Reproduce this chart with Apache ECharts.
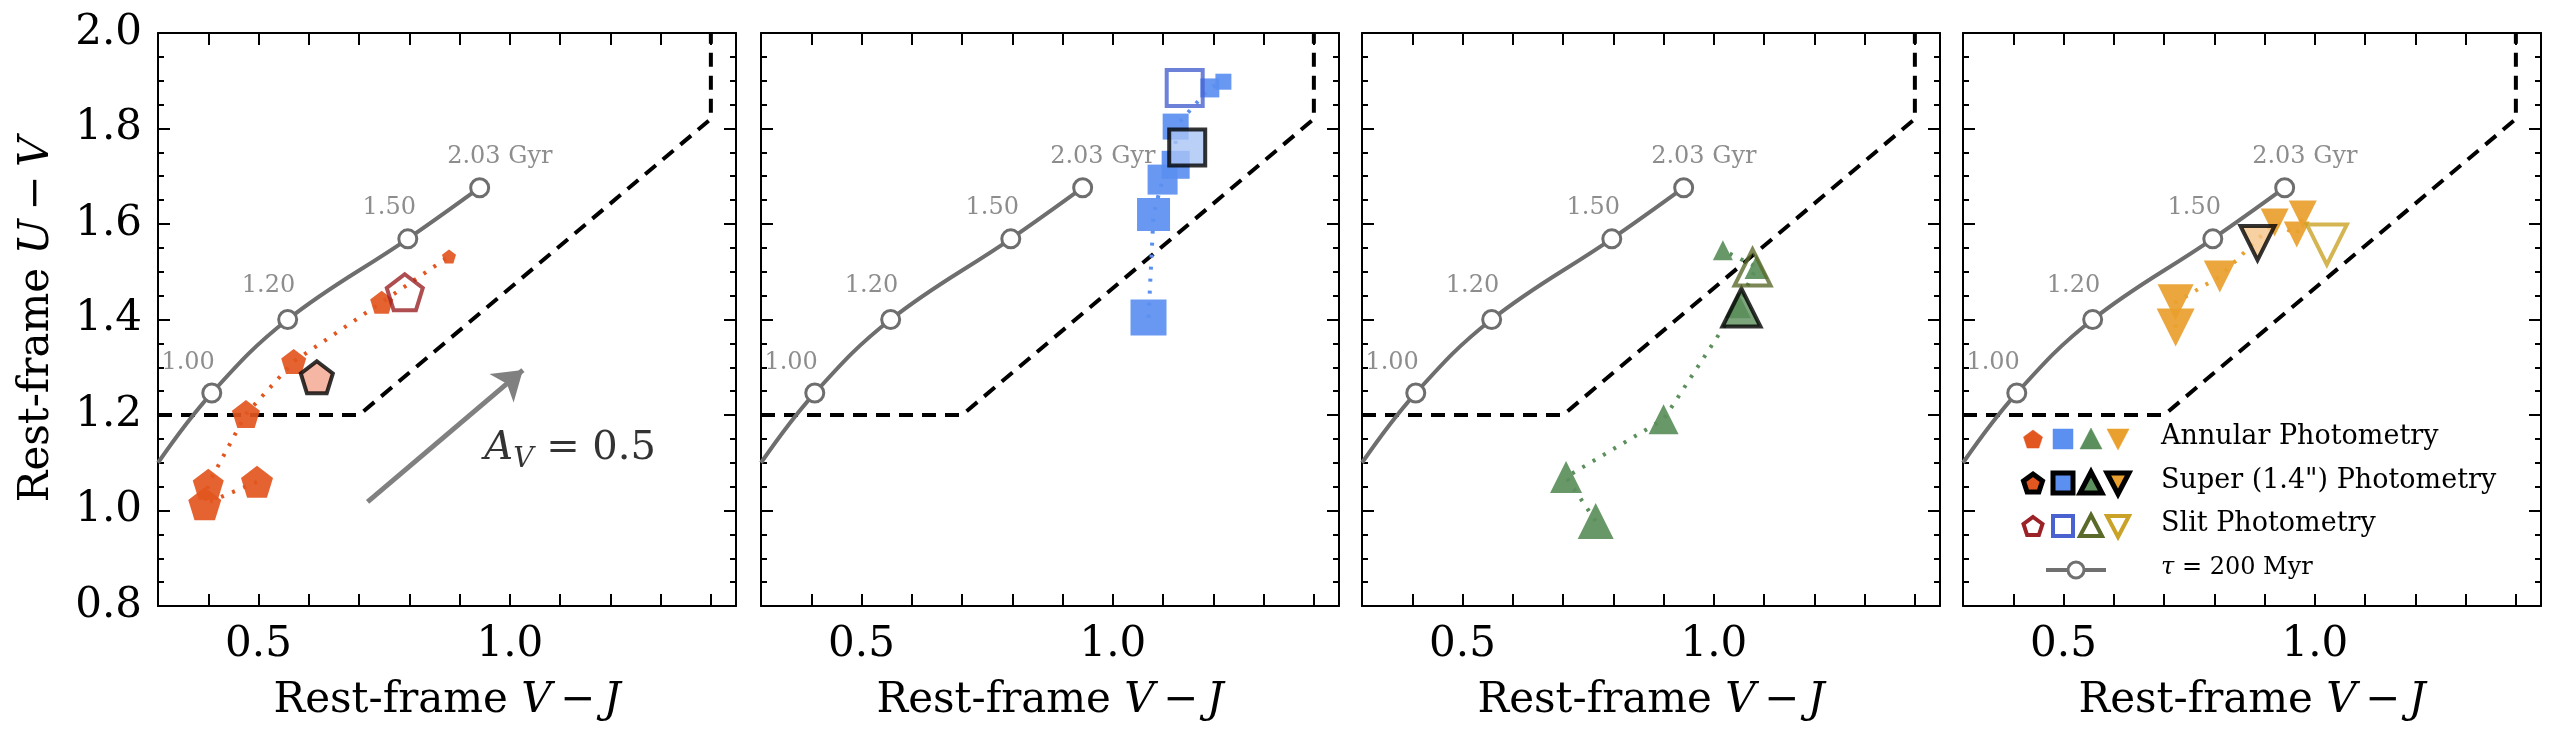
<!DOCTYPE html>
<html>
<head>
<meta charset="utf-8">
<script src="https://cdn.jsdelivr.net/npm/echarts@6/dist/echarts.min.js"></script>
<style>html,body{margin:0;padding:0;background:#fff}#chart{width:2560px;height:737px}</style>
</head>
<body>
<div id="chart"></div>
<script>
// tau = 200 Myr track (V-J, U-V) and age labels
var trackLine = [[0.30,1.10],[0.407,1.246],[0.558,1.40],[0.797,1.569],[0.94,1.676]];
var trackAges = [[0.407,1.246],[0.558,1.40],[0.797,1.569],[0.94,1.676]];
var ageLabels = ['1.00','1.20','1.50','2.03 Gyr'];
var ageLabelPos = [[0.36,1.31],[0.52,1.47],[0.76,1.635],[0.98,1.74]];
// quiescent selection box
var uvjBox = [[0.30,1.20],[0.70,1.20],[1.40,1.82],[1.40,2.00]];

// panel 1 (pentagons)
var ann1 = [[0.497,1.06],[0.393,1.014],[0.40,1.055],[0.475,1.202],[0.570,1.312],[0.745,1.436],[0.879,1.532]];
var ann1Size = [32,33,31,28,25,23,14];
var sup1 = [0.616,1.279];
var slit1 = [0.791,1.457];
// panel 2 (squares)
var ann2 = [[1.071,1.404],[1.081,1.62],[1.099,1.693],[1.125,1.724],[1.125,1.804],[1.193,1.885],[1.22,1.898]];
var ann2Size = [36,33,30,28,26,19,16];
var sup2 = [1.148,1.76];
var slit2 = [1.143,1.885];
// panel 3 (up triangles)
var ann3 = [[0.765,0.978],[0.706,1.07],[0.900,1.191],[1.048,1.43],[1.085,1.51],[1.018,1.545]];
var ann3Size = [36,32,30,26,24,20];
var sup3 = [1.055,1.425];
var slit3 = [1.077,1.509];
// panel 4 (down triangles)
var ann4 = [[0.723,1.383],[0.723,1.436],[0.811,1.49],[0.920,1.603],[0.964,1.578],[0.976,1.62]];
var ann4Size = [38,36,32,28,26,28];
var sup4 = [0.886,1.56];
var slit4 = [1.024,1.557];

var xTicks = ['0.5','1.0'];
var yTicks = ['0.8','1.0','1.2','1.4','1.6','1.8','2.0'];

var FONT = 'DejaVu Serif';
var pent = 'path://M0,-10 L9.51,-3.09 L5.88,8.09 L-5.88,8.09 L-9.51,-3.09 Z';
var panels = [
  {ann: ann1, size: ann1Size, sup: sup1, slit: slit1, sym: pent, rot: 0, col: '#e2561f', supFill: '#f2a58c', slitCol: '#9b2226', supSize: 32, slitSize: 36},
  {ann: ann2, size: ann2Size, sup: sup2, slit: slit2, sym: 'rect', rot: 0, col: '#5b8ff0', supFill: '#a9c4f5', slitCol: '#4a62d0', supSize: 36, slitSize: 36},
  {ann: ann3, size: ann3Size, sup: sup3, slit: slit3, sym: 'triangle', rot: 0, col: '#5b8f5b', supFill: '#5b8f5b', slitCol: '#5a6a2a', supSize: 38, slitSize: 36},
  {ann: ann4, size: ann4Size, sup: sup4, slit: slit4, sym: 'triangle', rot: 180, col: '#e9a02e', supFill: '#f5c68a', slitCol: '#c9a227', supSize: 34, slitSize: 40}
];
var lefts = [158, 761, 1362, 1963];

var grid = [], xAxis = [], yAxis = [], series = [];
lefts.forEach(function (l, i) {
  grid.push({left: l, top: 33, width: 578, height: 573});
  var tick = {show: true, inside: true, length: 12, lineStyle: {color: '#000', width: 2}};
  var minor = {show: true, length: 6, lineStyle: {color: '#000', width: 2}};
  xAxis.push({type: 'value', gridIndex: i, min: 0.3, max: 1.45, interval: 0.1,
    name: 'Rest-frame {i|V}\u2009\u2212\u2009{i|J}', nameLocation: 'middle', nameGap: 74,
    nameTextStyle: {fontFamily: FONT, fontSize: 42, color: '#000', rich: {i: {fontFamily: FONT, fontStyle: 'italic', fontSize: 42}}},
    axisLine: {lineStyle: {color: '#000', width: 2}}, axisTick: tick, splitLine: {show: false},
    axisLabel: {fontFamily: FONT, fontSize: 42, color: '#000', margin: 18,
      formatter: function (v) { var s = v.toFixed(1); return xTicks.indexOf(s) >= 0 ? s : ''; }}});
  xAxis.push({type: 'value', gridIndex: i, position: 'top', min: 0.3, max: 1.45, interval: 0.1,
    axisLine: {lineStyle: {color: '#000', width: 2}}, axisTick: tick, axisLabel: {show: false}, splitLine: {show: false}});
  yAxis.push({type: 'value', gridIndex: i, min: 0.8, max: 2.0, interval: 0.2,
    name: i === 0 ? 'Rest-frame {i|U}\u2009\u2212\u2009{i|V}' : '', nameLocation: 'middle', nameGap: 100,
    nameTextStyle: {fontFamily: FONT, fontSize: 42, color: '#000', rich: {i: {fontFamily: FONT, fontStyle: 'italic', fontSize: 42}}},
    axisLine: {lineStyle: {color: '#000', width: 2}}, axisTick: tick, minorTick: Object.assign({splitNumber: 4}, minor),
    splitLine: {show: false},
    axisLabel: {show: i === 0, fontFamily: FONT, fontSize: 42, color: '#000', margin: 16,
      formatter: function (v) { return v.toFixed(1); }}});
  yAxis.push({type: 'value', gridIndex: i, position: 'right', min: 0.8, max: 2.0, interval: 0.2,
    axisLine: {lineStyle: {color: '#000', width: 2}}, axisTick: tick, minorTick: Object.assign({splitNumber: 4}, minor),
    axisLabel: {show: false}, splitLine: {show: false}});
  var xi = 2 * i, yi = 2 * i;
  series.push({type: 'line', xAxisIndex: xi, yAxisIndex: yi, data: uvjBox, symbol: 'none',
    lineStyle: {color: '#000', width: 4, type: [14, 9]}, z: 2, silent: true});
  series.push({type: 'line', xAxisIndex: xi, yAxisIndex: yi, data: trackLine, smooth: 0.4, symbol: 'none',
    lineStyle: {color: '#6e6e6e', width: 4}, z: 3, silent: true});
  series.push({type: 'scatter', xAxisIndex: xi, yAxisIndex: yi, data: trackAges, symbol: 'circle', symbolSize: 18,
    itemStyle: {color: '#ffffff', borderColor: '#6e6e6e', borderWidth: 3, opacity: 1}, z: 4, silent: true});
  series.push({type: 'scatter', xAxisIndex: xi, yAxisIndex: yi, symbolSize: 0, z: 4, silent: true,
    data: ageLabelPos.map(function (p, k) { return {value: p, label: {show: true, formatter: ageLabels[k]}}; }),
    label: {position: 'inside', fontFamily: FONT, fontSize: 24, color: '#707070'}});
  var p = panels[i];
  series.push({type: 'line', xAxisIndex: xi, yAxisIndex: yi, data: p.ann, symbol: 'none',
    lineStyle: {color: p.col, width: 4, type: [3, 9]}, z: 5, silent: true});
  series.push({type: 'scatter', xAxisIndex: xi, yAxisIndex: yi, symbol: p.sym, symbolRotate: p.rot,
    data: p.ann.map(function (d, k) { return {value: d, symbolSize: p.size[k]}; }),
    itemStyle: {color: p.col, opacity: 0.92}, z: 6});
  series.push({type: 'scatter', xAxisIndex: xi, yAxisIndex: yi, symbol: p.sym, symbolRotate: p.rot, data: [p.sup],
    symbolSize: p.supSize, itemStyle: {color: p.supFill, borderColor: '#000', borderWidth: 4}, z: 7});
  series.push({type: 'scatter', xAxisIndex: xi, yAxisIndex: yi, symbol: p.sym, symbolRotate: p.rot, data: [p.slit],
    symbolSize: p.slitSize, itemStyle: {color: 'rgba(255,255,255,0)', borderColor: p.slitCol, borderWidth: 4}, z: 7});
});
// reddening arrow and label in panel 1
series.push({type: 'line', xAxisIndex: 0, yAxisIndex: 0, data: [], markLine: {silent: true, symbol: ['none', 'arrow'], symbolSize: 28,
  label: {show: false}, lineStyle: {color: '#808080', width: 5, type: 'solid'},
  data: [[{coord: [0.717, 1.018]}, {coord: [1.026, 1.294]}]]}});
series.push({type: 'scatter', xAxisIndex: 0, yAxisIndex: 0, symbolSize: 0, silent: true,
  data: [{value: [1.12, 1.13], label: {show: true, position: 'inside', formatter: '{i|A}{s|V}{n| = 0.5}',
    rich: {i: {fontFamily: FONT, fontStyle: 'italic', fontSize: 40, color: '#000'},
           s: {fontFamily: FONT, fontStyle: 'italic', fontSize: 28, color: '#000', verticalAlign: 'bottom', padding: [22, 0, 0, 0]},
           n: {fontFamily: FONT, fontSize: 40, color: '#000'}}}}]});

// legend in panel 4
var legendRows = ['Annular Photometry', 'Super (1.4") Photometry', 'Slit Photometry'];
var legendY = [439, 483, 526];
var iconX = [2033, 2063, 2091, 2118];
var graphic = [];
function icon(k, x, y, fill, stroke, lw) {
  var st = {fill: fill, stroke: stroke, lineWidth: lw};
  var r = 10;
  if (k === 0) {
    var pts = [];
    for (var a = 0; a < 5; a++) { var t = -Math.PI / 2 + a * 2 * Math.PI / 5; pts.push([x + r * Math.cos(t), y + r * Math.sin(t) + 1]); }
    return {type: 'polygon', shape: {points: pts}, style: st, z: 100};
  }
  if (k === 1) return {type: 'rect', shape: {x: x - r, y: y - r, width: 2 * r, height: 2 * r}, style: st, z: 100};
  if (k === 2) return {type: 'polygon', shape: {points: [[x, y - r - 1], [x + r + 1, y + r], [x - r - 1, y + r]]}, style: st, z: 100};
  return {type: 'polygon', shape: {points: [[x, y + r + 1], [x + r + 1, y - r], [x - r - 1, y - r]]}, style: st, z: 100};
}
legendRows.forEach(function (t, r) {
  panels.forEach(function (p, k) {
    if (r === 0) graphic.push(icon(k, iconX[k], legendY[r], p.col, p.col, 0.5));
    if (r === 1) graphic.push(icon(k, iconX[k], legendY[r], p.col, '#000', 5));
    if (r === 2) graphic.push(icon(k, iconX[k], legendY[r], '#fff', p.slitCol, 4));
  });
  graphic.push({type: 'text', left: 2161, top: legendY[r] - 16, style: {text: t, fontFamily: FONT, fontSize: 27, fill: '#000'}, z: 100});
});
graphic.push({type: 'line', shape: {x1: 2046, y1: 570, x2: 2106, y2: 570}, style: {stroke: '#707070', lineWidth: 4}, z: 100});
graphic.push({type: 'circle', shape: {cx: 2076, cy: 570, r: 8}, style: {fill: '#fff', stroke: '#707070', lineWidth: 3}, z: 101});
graphic.push({type: 'text', left: 2161, top: 556, style: {rich: {i: {fontFamily: FONT, fontStyle: 'italic', fontSize: 24}, n: {fontFamily: FONT, fontSize: 24}},
  text: '{i|\u03c4}{n| = 200 Myr}', fill: '#000'}, z: 100});

var chart = echarts.init(document.getElementById('chart'));
chart.setOption({animation: false, grid: grid, xAxis: xAxis, yAxis: yAxis, series: series, graphic: graphic});
</script>
</body>
</html>
